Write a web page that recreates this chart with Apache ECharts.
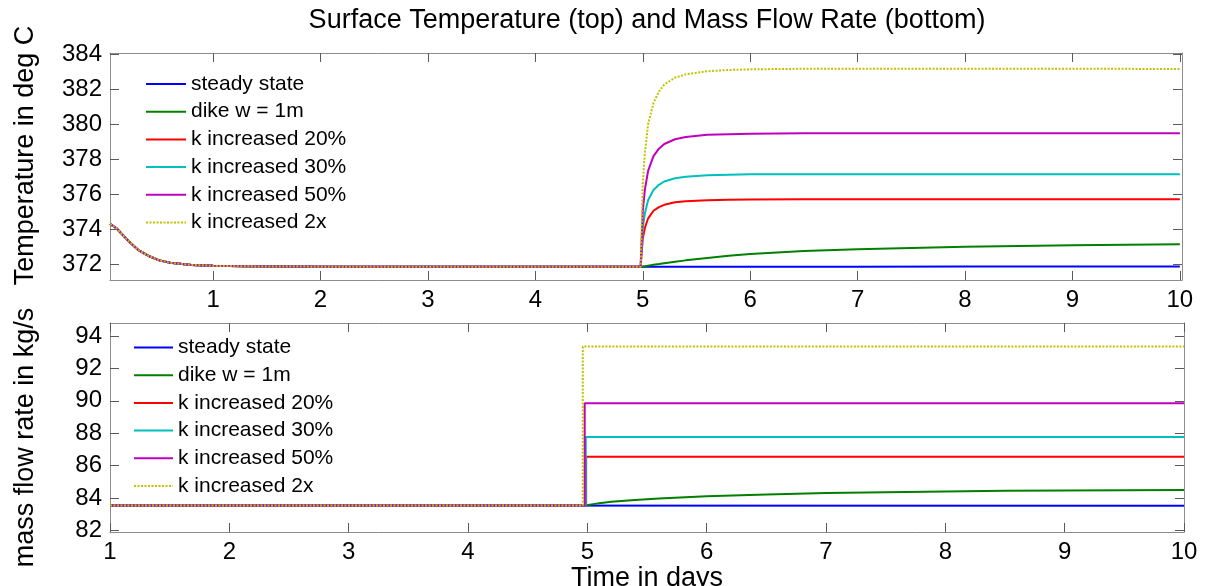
<!DOCTYPE html>
<html><head><meta charset="utf-8">
<script src="https://cdn.jsdelivr.net/npm/echarts@6/dist/echarts.min.js"></script>
<style>html,body{margin:0;padding:0;background:#fff}#c{width:1207px;height:586px}</style>
</head><body><div id="c"></div><script>
// ---------- data ----------
const seriesNames = ['steady state', 'dike w = 1m', 'k increased 20%', 'k increased 30%', 'k increased 50%', 'k increased 2x'];
const seriesColors = ['#0000ff', '#008000', '#ff0000', '#00bfbf', '#bf00bf', '#c2c200'];

const tempTicks = [372, 374, 376, 378, 380, 382, 384];
const flowTicks = [82, 84, 86, 88, 90, 92, 94];
const dayTicks = [1, 2, 3, 4, 5, 6, 7, 8, 9, 10];

// shared initial cool-down (days, deg C)
const tempDecayT = [0.04, 0.1, 0.2, 0.3, 0.4, 0.5, 0.6, 0.8, 1.0, 1.3, 1.6, 2.0, 3.0, 4.0, 4.98];
const tempDecayV = [374.3, 374.05, 373.4, 372.82, 372.47, 372.22, 372.08, 371.96, 371.91, 371.88, 371.87, 371.86, 371.86, 371.86, 371.86];

// after the change at day 5
const tempRiseT = [5.0, 5.02, 5.05, 5.1, 5.15, 5.2, 5.3, 5.4, 5.6, 5.8, 6.0, 6.5, 7, 8, 9, 10];
const tempSteady = [371.86, 371.86, 371.86, 371.86, 371.86, 371.86, 371.86, 371.86, 371.86, 371.86, 371.86, 371.86, 371.86, 371.87, 371.87, 371.87];
const tempDike = [371.87, 371.89, 371.92, 371.97, 372.01, 372.06, 372.14, 372.22, 372.36, 372.48, 372.58, 372.76, 372.86, 372.99, 373.08, 373.14];
const tempK20 = [373.47, 374.08, 374.62, 375.05, 375.26, 375.39, 375.53, 375.59, 375.65, 375.68, 375.69, 375.70, 375.70, 375.70, 375.70, 375.70];
const tempK30 = [374.07, 374.92, 375.66, 376.24, 376.53, 376.72, 376.90, 376.99, 377.08, 377.11, 377.13, 377.14, 377.14, 377.14, 377.14, 377.14];
const tempK50 = [375.05, 376.27, 377.34, 378.17, 378.59, 378.86, 379.13, 379.26, 379.38, 379.42, 379.45, 379.47, 379.47, 379.47, 379.47, 379.47];
const tempK2x = [376.6, 378.4, 380.0, 381.2, 381.85, 382.25, 382.64, 382.83, 383.01, 383.08, 383.12, 383.15, 383.15, 383.15, 383.15, 383.14];

// mass flow rate (kg/s)
const flowBase = 83.53;
const flowSteadyT = [1, 10];
const flowSteadyV = [83.53, 83.52];
const flowDikeT = [1, 4.98, 5.05, 5.1, 5.2, 5.4, 5.6, 6.0, 6.5, 7.0, 7.5, 8.0, 8.5, 9.0, 9.5, 10];
const flowDikeV = [83.53, 83.53, 83.62, 83.68, 83.77, 83.88, 83.97, 84.10, 84.22, 84.30, 84.36, 84.40, 84.44, 84.46, 84.48, 84.50];
const flowJumpDay = [4.99, 4.987, 4.978, 4.962];      // k+20%, k+30%, k+50%, k x2
const flowJumpLevel = [86.55, 87.77, 89.85, 93.35];

// ---------- build ----------
const FONT = '"Liberation Sans", Arial, Helvetica, sans-serif';
const pairs = (t, v) => t.map((x, i) => [x, v[i]]);
const tempRise = [tempSteady, tempDike, tempK20, tempK30, tempK50, tempK2x];

const series = [];
seriesNames.forEach((name, i) => {
  const ls = { color: seriesColors[i], width: 2 };
  if (i === 5) ls.type = [2, 1.5];
  series.push({
    name, type: 'line', xAxisIndex: 0, yAxisIndex: 0, symbol: 'none', animation: false,
    lineStyle: ls, itemStyle: { color: seriesColors[i] },
    data: pairs(tempDecayT, tempDecayV).concat(pairs(tempRiseT, tempRise[i]))
  });
});
seriesNames.forEach((name, i) => {
  const ls = { color: seriesColors[i], width: 2 };
  if (i === 5) ls.type = [2, 1.5];
  let data;
  if (i === 0) data = pairs(flowSteadyT, flowSteadyV);
  else if (i === 1) data = pairs(flowDikeT, flowDikeV);
  else {
    const d = flowJumpDay[i - 2], lv = flowJumpLevel[i - 2];
    data = pairs([1, d, d, 10], [flowBase, flowBase, lv, lv]);
  }
  series.push({
    name, type: 'line', xAxisIndex: 2, yAxisIndex: 2, symbol: 'none', animation: false,
    lineStyle: ls, itemStyle: { color: seriesColors[i] }, data
  });
});

const boxLine = { show: true, onZero: false, lineStyle: { color: '#8c8c8c', width: 1 } };
const tickStyle = (vals) => ({ show: true, inside: true, length: 9, customValues: vals, lineStyle: { color: '#5a5a5a', width: 1 } });
const lbl = (vals, margin) => ({ show: true, customValues: vals, fontSize: 24, color: '#000', fontFamily: FONT, margin });
const noLbl = { show: false };
const legendCommon = {
  orient: 'vertical', padding: 0, itemWidth: 40, itemHeight: 14, itemGap: 6.7,
  selectedMode: false, data: seriesNames,
  itemStyle: { opacity: 0 },
  textStyle: { fontSize: 21, lineHeight: 21, color: '#000', fontFamily: FONT }
};

const option = {
  backgroundColor: '#fff',
  animation: false,
  title: {
    text: 'Surface Temperature (top) and Mass Flow Rate (bottom)',
    left: 647, top: 7, padding: 0, textAlign: 'center',
    textStyle: { fontSize: 27, fontWeight: 'normal', color: '#000', fontFamily: FONT }
  },
  grid: [
    { left: 110, top: 53, width: 1072, height: 227, containLabel: false, outerBoundsMode: 'none' },
    { left: 110, top: 323, width: 1074, height: 209, containLabel: false, outerBoundsMode: 'none' }
  ],
  legend: [
    Object.assign({}, legendCommon, { left: 145, top: 73.5 }),
    Object.assign({}, legendCommon, { left: 133, top: 337, itemWidth: 39 })
  ],
  xAxis: [
    { gridIndex: 0, type: 'value', min: 0.04, max: 10.02, axisLine: boxLine, axisTick: tickStyle(dayTicks),
      axisLabel: lbl(dayTicks, 8), splitLine: { show: false } },
    { gridIndex: 0, type: 'value', position: 'top', min: 0.04, max: 10.02, axisLine: boxLine, axisTick: tickStyle(dayTicks),
      axisLabel: noLbl, splitLine: { show: false } },
    { gridIndex: 1, type: 'value', min: 1, max: 10, axisLine: boxLine, axisTick: tickStyle(dayTicks),
      axisLabel: lbl(dayTicks, 8), splitLine: { show: false },
      name: 'Time in days', nameLocation: 'middle', nameGap: 29,
      nameTextStyle: { fontSize: 27, color: '#000', fontFamily: FONT } },
    { gridIndex: 1, type: 'value', position: 'top', min: 1, max: 10, axisLine: boxLine, axisTick: tickStyle(dayTicks),
      axisLabel: noLbl, splitLine: { show: false } }
  ],
  yAxis: [
    { gridIndex: 0, type: 'value', min: 371.1, max: 384.05, axisLine: boxLine, axisTick: tickStyle(tempTicks),
      axisLabel: lbl(tempTicks, 8), splitLine: { show: false },
      name: 'Temperature in deg C', nameLocation: 'middle', nameGap: 71, nameRotate: 90,
      nameTextStyle: { fontSize: 27, color: '#000', fontFamily: FONT, padding: [0, 0, 0, 22] } },
    { gridIndex: 0, type: 'value', position: 'right', min: 371.1, max: 384.05, axisLine: boxLine, axisTick: tickStyle(tempTicks),
      axisLabel: noLbl, splitLine: { show: false } },
    { gridIndex: 1, type: 'value', min: 81.9, max: 94.8, axisLine: boxLine, axisTick: tickStyle(flowTicks),
      axisLabel: lbl(flowTicks, 8), splitLine: { show: false },
      name: 'mass flow rate in kg/s', nameLocation: 'middle', nameGap: 71, nameRotate: 90,
      nameTextStyle: { fontSize: 27, color: '#000', fontFamily: FONT, padding: [0, 20, 0, 0] } },
    { gridIndex: 1, type: 'value', position: 'right', min: 81.9, max: 94.8, axisLine: boxLine, axisTick: tickStyle(flowTicks),
      axisLabel: noLbl, splitLine: { show: false } }
  ],
  series
};

const chart = echarts.init(document.getElementById('c'), null, { renderer: 'canvas' });
chart.setOption(option);
</script></body></html>
